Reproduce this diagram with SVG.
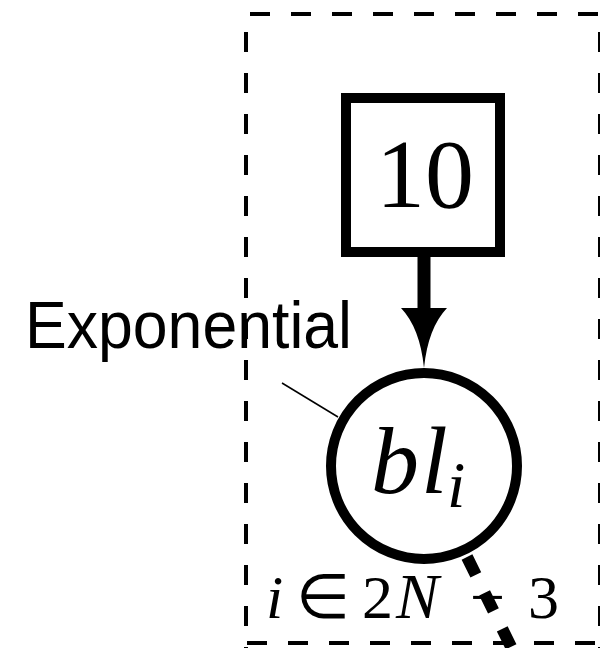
<svg xmlns="http://www.w3.org/2000/svg" width="600" height="648" viewBox="0 0 600 648">
<style>
.plate{fill:none;stroke:#000;stroke-width:4;stroke-dasharray:20 21}
.math{font-family:"Liberation Serif",serif;font-style:italic;fill:#000}
.num{font-family:"Liberation Serif",serif;fill:#000}
.lbl{font-family:"Liberation Sans",Arial,sans-serif;fill:#000}
</style>
<rect width="600" height="648" fill="#fff"/>
<g id="plate">
<line class="plate" x1="250" y1="14" x2="600" y2="14"/>
<line class="plate" x1="247" y1="643" x2="600" y2="643"/>
<line class="plate" x1="246" y1="32" x2="246" y2="648"/>
<line class="plate" x1="600" y1="32" x2="600" y2="648"/>
<text y="618" font-size="62"><tspan class="math" x="266">i</tspan><tspan class="num" x="296">∈</tspan><tspan class="num" x="362">2</tspan><tspan class="math" x="396" font-size="64">N</tspan><tspan class="num" x="470">−</tspan><tspan class="num" x="528">3</tspan></text>
</g>
<g id="connectors">
<line x1="424" y1="257" x2="424" y2="312" stroke="#000" stroke-width="13"/>
<path d="M401,308 L447,308 Q428,328 424,368 Q420,328 401,308 Z" fill="#000"/>
<line x1="282" y1="383" x2="338" y2="417" stroke="#000" stroke-width="1.5"/>
<line x1="467" y1="557" x2="520" y2="665" stroke="#000" stroke-width="12" stroke-dasharray="20 20"/>
</g>
<g id="node-10">
<rect x="346" y="98" width="154" height="154" fill="#fff" stroke="#000" stroke-width="10"/>
<text class="num" x="425" y="207" font-size="98" text-anchor="middle">10</text>
</g>
<g id="node-bl">
<circle cx="424" cy="466" r="93" fill="#fff" stroke="#000" stroke-width="10"/>
<text class="math" y="493" font-size="96"><tspan x="371">b</tspan><tspan x="421">l</tspan><tspan x="447" y="507" font-size="66">i</tspan></text>
</g>
<g id="label-exponential">
<text class="lbl" x="25" y="348" font-size="66" textLength="327" lengthAdjust="spacingAndGlyphs">Exponential</text>
</g>
</svg>
